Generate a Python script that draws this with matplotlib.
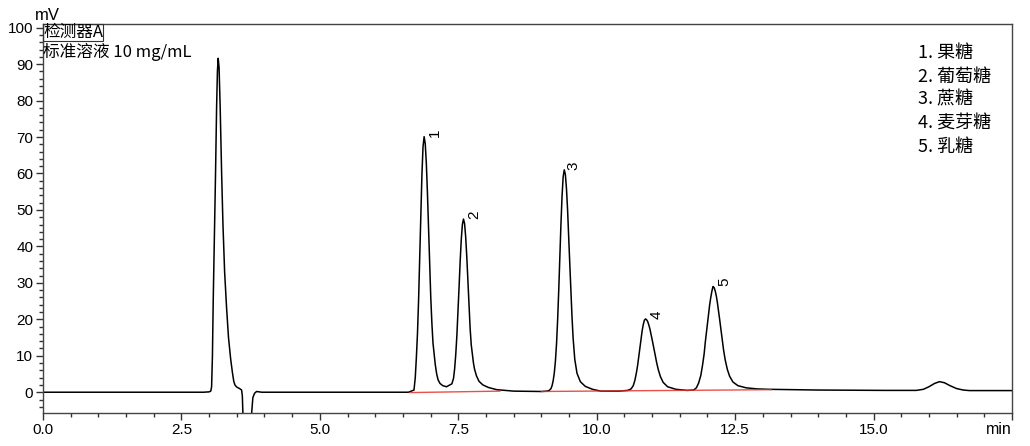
import matplotlib
matplotlib.use("Agg")
import matplotlib.pyplot as plt
from matplotlib.ticker import MultipleLocator, FixedLocator

plt.rcParams['font.family'] = ['Liberation Sans', 'DejaVu Sans']

# ---- data (time in min, signal in mV) ----
time_min = [
    # start + solvent peak + system dip
    0.0, 2.90, 3.00, 3.030, 3.045, 3.060, 3.074, 3.095, 3.116, 3.135, 3.150, 3.164,
    3.180, 3.200, 3.226, 3.250, 3.280, 3.316, 3.350, 3.390, 3.420, 3.445, 3.466,
    3.500, 3.550, 3.587, 3.600, 3.615, 3.640, 3.740, 3.767, 3.790, 3.820, 3.857, 3.950,
    # peak 1
    6.60, 6.70, 6.723, 6.743, 6.763, 6.783, 6.803, 6.823, 6.843, 6.863, 6.883,
    6.903, 6.923, 6.943, 6.963, 6.983, 7.003, 7.023, 7.043, 7.063, 7.085, 7.110,
    7.135, 7.170, 7.220, 7.287,
    # peak 2
    7.384, 7.414, 7.434, 7.454, 7.474, 7.494, 7.514, 7.534, 7.554, 7.574, 7.594,
    7.614, 7.634, 7.654, 7.674, 7.694, 7.714, 7.734, 7.756, 7.774, 7.794, 7.828,
    7.874, 7.944, 8.044, 8.194, 8.500, 9.000,
    # peak 3
    9.104, 9.144, 9.174, 9.194, 9.214, 9.234, 9.254, 9.274, 9.294, 9.314, 9.334,
    9.354, 9.374, 9.394, 9.414, 9.434, 9.454, 9.474, 9.494, 9.514, 9.534, 9.554,
    9.574, 9.604, 9.644, 9.704, 9.794, 9.924, 10.074,
    # peak 4
    10.40, 10.56, 10.62, 10.66, 10.69, 10.72, 10.74, 10.76, 10.78, 10.80, 10.82,
    10.84, 10.86, 10.88, 10.90, 10.92, 10.94, 10.96, 10.98, 11.00, 11.02, 11.04,
    11.06, 11.08, 11.11, 11.15, 11.20, 11.28, 11.43, 11.63,
    # peak 5
    11.75, 11.80, 11.84, 11.88, 11.91, 11.94, 11.96, 11.98, 12.00, 12.02, 12.04,
    12.06, 12.08, 12.10, 12.12, 12.14, 12.16, 12.18, 12.20, 12.22, 12.24, 12.26,
    12.29, 12.32, 12.36, 12.40, 12.46, 12.55, 12.70, 12.90, 13.10,
    # tail, late bump, end
    14.00, 15.20, 15.77, 15.90, 16.00, 16.10, 16.19, 16.28, 16.38, 16.50, 16.62,
    16.73, 17.00, 17.50,
]
signal_mv = [
    0.0, 0.0, 0.1, 0.3, 1.5, 10.0, 25.0, 42.0, 60.0, 78.0, 88.0, 91.6,
    89.0, 78.0, 60.0, 46.0, 33.0, 23.0, 15.0, 9.0, 5.5, 3.0, 2.0,
    1.4, 1.0, 0.6, -1.0, -8.0, -20.0, -20.0, -6.0, -1.5, -0.3, 0.2, 0.0,
    # peak 1
    0.0, 0.6, 4.0, 9.5, 16.1, 25.3, 36.5, 48.6, 59.5, 67.3, 70.1,
    68.2, 62.8, 54.6, 45.0, 35.1, 26.0, 19.0, 13.5, 10.7, 7.5, 5.0,
    3.4, 2.4, 1.8, 1.5,
    # peak 2
    2.3, 3.8, 6.4, 10.3, 15.4, 21.8, 28.8, 35.9, 41.9, 46.0, 47.5,
    46.2, 42.5, 37.0, 30.5, 23.8, 17.5, 13.0, 10.3, 8.0, 6.3, 4.5,
    3.0, 2.0, 1.3, 0.7, 0.3, 0.2,
    # peak 3
    0.3, 0.5, 1.0, 1.8, 3.2, 5.3, 8.5, 13.2, 19.8, 27.9, 37.0,
    46.1, 53.8, 59.1, 61.0, 59.7, 55.8, 50.0, 42.8, 35.1, 27.5, 20.6,
    14.8, 9.0, 5.2, 2.9, 1.6, 0.8, 0.3,
    # peak 4
    0.3, 0.5, 0.9, 1.8, 3.3, 5.6, 7.5, 9.8, 12.2, 14.6, 16.8,
    18.5, 19.7, 20.1, 19.9, 19.4, 18.5, 17.4, 16.0, 14.5, 13.0, 11.5,
    9.9, 8.3, 6.3, 4.3, 2.7, 1.5, 0.8, 0.5,
    # peak 5
    0.6, 1.2, 2.5, 4.6, 7.3, 10.5, 13.6, 16.2, 18.9, 21.5, 24.0,
    26.0, 27.7, 29.0, 28.7, 27.8, 26.4, 24.5, 22.3, 20.0, 17.6, 15.2,
    11.7, 8.9, 6.2, 4.4, 2.8, 1.8, 1.2, 0.9, 0.8,
    # tail, late bump, end
    0.6, 0.5, 0.5, 0.8, 1.5, 2.4, 2.9, 2.6, 1.8, 1.0, 0.6,
    0.45, 0.45, 0.45,
]

# integration baselines (red)
baseline_t = [[6.62, 8.25], [9.00, 13.15]]
baseline_v = [[-0.1, 0.3], [0.2, 0.7]]

# peak labels
peak_ids = ["1", "2", "3", "4", "5"]
peak_t = [6.883, 7.594, 9.374, 10.88, 12.10]
peak_v = [70.1, 47.5, 61.0, 20.1, 29.0]

legend_lines = ["1. 果糖", "2. 葡萄糖", "3. 蔗糖", "4. 麦芽糖", "5. 乳糖"]
detector_text = "检测器A"
sample_text = "标准溶液 10 mg/mL"

x_major = [0.0, 2.5, 5.0, 7.5, 10.0, 12.5, 15.0, 17.5]
x_labels = ["0.0", "2.5", "5.0", "7.5", "10.0", "12.5", "15.0", ""]
y_major = [0, 10, 20, 30, 40, 50, 60, 70, 80, 90, 100]

CJK = ["Noto Sans CJK SC", "DejaVu Sans"]

fig = plt.figure(figsize=(10.30, 4.46), dpi=100)
ax = fig.add_axes([43 / 1030, 33 / 446, (1012 - 43) / 1030, (413 - 24) / 446])

ax.plot(time_min, signal_mv, color="black", lw=1.1)
for bt, bv in zip(baseline_t, baseline_v):
    ax.plot(bt, bv, color="#e8302a", lw=1.0, alpha=0.85)

ax.set_xlim(0, 17.5)
ax.set_ylim(-5.7, 101.0)

ax.xaxis.set_major_locator(FixedLocator(x_major))
ax.set_xticklabels(x_labels)
ax.xaxis.set_minor_locator(MultipleLocator(0.5))
ax.yaxis.set_major_locator(FixedLocator(y_major))
ax.yaxis.set_minor_locator(MultipleLocator(2))

ax.tick_params(axis="both", which="major", direction="out", length=5, width=1,
               color="#333333", labelsize=11, pad=2)
ax.tick_params(axis="both", which="minor", direction="out", length=3, width=1,
               color="#333333")
ax.tick_params(top=False, right=False, which="both")
for lab in ax.get_xticklabels() + ax.get_yticklabels():
    lab.set_family(["Liberation Sans", "DejaVu Sans"])
for s in ax.spines.values():
    s.set_color("#444444")
    s.set_linewidth(1.0)

# axis unit labels
fig.text(47 / 1030, 1 - 16 / 446, "mV", ha="center", va="center", fontsize=12)
fig.text(1012 / 1030, 1 - 430 / 446, "min", ha="right", va="center", fontsize=11.5)

# header texts
ax.text(0.0, 1.0, detector_text, transform=ax.transAxes, ha="left", va="top",
        fontsize=12, family=CJK,
        bbox=dict(boxstyle="square,pad=0.02", fc="none", ec="#333333", lw=0.8))
ax.text(0.0, 0.951, sample_text, transform=ax.transAxes, ha="left", va="top",
        fontsize=12, family=CJK)

# legend list (top right)
for i, line in enumerate(legend_lines):
    ax.text((918 - 43) / 969, 0.925 - i * 0.06, line,
            transform=ax.transAxes, ha="left", va="center", fontsize=13,
            family=CJK)

# peak numbers
for pid, t, v in zip(peak_ids, peak_t, peak_v):
    ax.annotate(pid, xy=(t, v), xytext=(4, 0), textcoords="offset pixels",
                rotation=90, ha="left", va="bottom", fontsize=11)

fig.savefig("out.png", dpi=100)
